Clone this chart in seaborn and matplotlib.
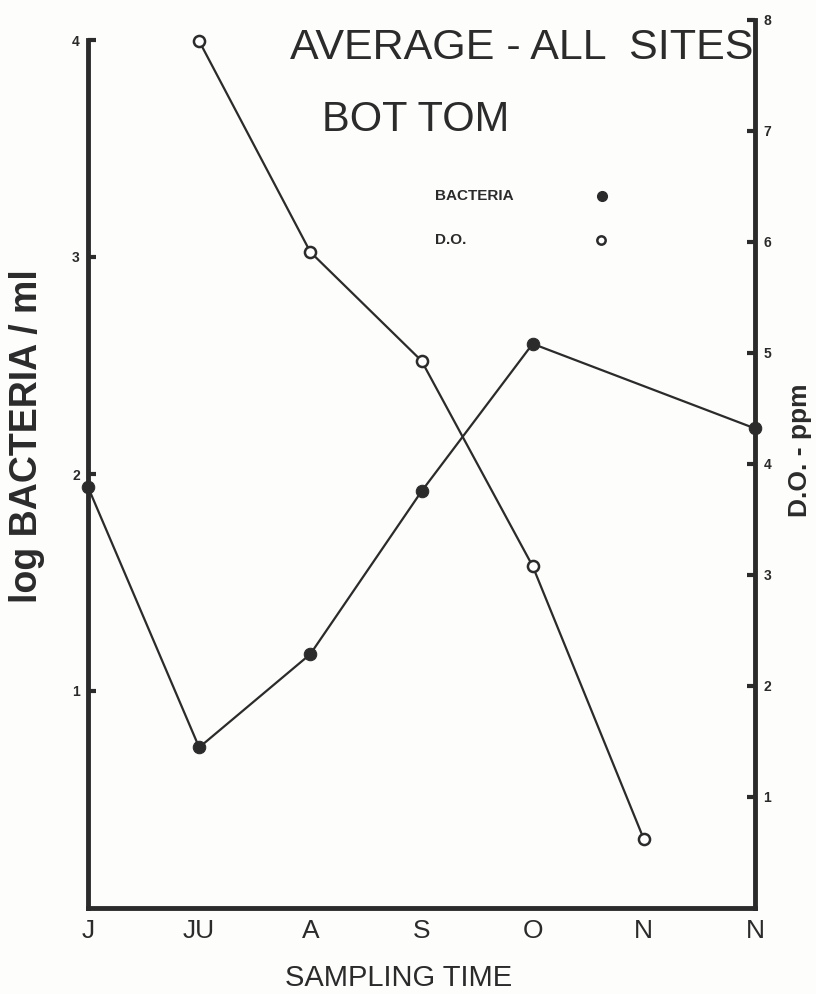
import numpy as np
import pandas as pd
import matplotlib
matplotlib.use("Agg")
import matplotlib.pyplot as plt
import seaborn as sns

# Sampling times (June through November, two November samples)
month_labels = ["J", "JU", "A", "S", "O", "N", "N"]
sample_index = [0, 1, 2, 3, 4, 5, 6]

# log bacteria / ml (filled circles); no count at the first November sample
bacteria_log = [1.94, 0.74, 1.17, 1.92, 2.60, np.nan, 2.21]
# Dissolved oxygen, ppm (open circles)
do_ppm = [np.nan, 7.81, 5.91, 4.93, 3.08, 0.62, np.nan]

left_ticks = [1, 2, 3, 4]
right_ticks = [1, 2, 3, 4, 5, 6, 7, 8]

ink = "#2b2b2b"

sns.set_theme(style="white")
plt.rcParams["font.family"] = ["Liberation Sans", "DejaVu Sans"]

df = pd.DataFrame({"sample": sample_index, "bacteria": bacteria_log, "do": do_ppm})
bact_df = df.dropna(subset=["bacteria"])
do_df = df.dropna(subset=["do"])

W, H = 816, 994
fig = plt.figure(figsize=(W / 100, H / 100), dpi=100)
fig.patch.set_facecolor("#fdfdfc")


def fx(px):
    return px / W


def fy(py):
    return 1 - py / H


ax = fig.add_axes([fx(88), fy(908), (755 - 88) / W, (908 - 20) / H])
ax.set_facecolor("none")
ax2 = ax.twinx()
ax2.set_facecolor("none")

# Bacteria: filled markers on the left axis
sns.lineplot(data=bact_df, x="sample", y="bacteria", ax=ax, color=ink, lw=1.6,
             marker="o", markersize=9, markerfacecolor=ink, markeredgecolor=ink,
             clip_on=False, zorder=5)
# Dissolved oxygen: open markers on the right axis
sns.lineplot(data=do_df, x="sample", y="do", ax=ax2, color=ink, lw=1.6,
             marker="o", markersize=8, markerfacecolor="white", markeredgecolor=ink,
             markeredgewidth=1.8, clip_on=False, zorder=5)

ax.set_xlim(0, 6)
ax.set_ylim(0, 4 * 888 / 868)
ax2.set_ylim(0, 8)

ax.set_xticks(sample_index)
ax.set_xticklabels(month_labels, fontsize=19)
ax.set_yticks(left_ticks)
ax.set_yticklabels([str(t) for t in left_ticks], fontsize=10, fontweight="bold", color=ink)
ax2.set_yticks(right_ticks)
ax2.set_yticklabels([str(t) for t in right_ticks], fontsize=10, fontweight="bold", color=ink)

ax.tick_params(axis="x", direction="in", length=7, width=2.5, color=ink, pad=8, labelcolor=ink)
ax.tick_params(axis="y", direction="in", length=6, width=3, color=ink, pad=6)
ax2.tick_params(axis="y", direction="in", length=6, width=3, color=ink, pad=6)

for a in (ax, ax2):
    a.spines["top"].set_visible(False)
    for side in ("left", "right", "bottom"):
        a.spines[side].set_color(ink)
        a.spines[side].set_linewidth(3.5)
ax.spines["left"].set_bounds(0, 4)
ax.spines["right"].set_visible(False)
ax2.spines["left"].set_visible(False)
ax2.spines["bottom"].set_visible(False)

ax.set_xlabel("")
ax.set_ylabel("")
ax2.set_ylabel("")

# Axis titles
fig.text(fx(399), fy(978), "SAMPLING TIME", fontsize=21, color=ink,
         ha="center", va="center")
fig.text(fx(27), fy(436), "log BACTERIA / ml", fontsize=27, fontweight="bold",
         color=ink, rotation=90, ha="center", va="center")
fig.text(fx(800), fy(450), "D.O. - ppm", fontsize=19, fontweight="bold",
         color=ink, rotation=90, ha="center", va="center")

# Title lettering
fig.text(fx(290), fy(48), "AVERAGE - ALL  SITES", fontsize=31, color=ink,
         ha="left", va="center")
fig.text(fx(322), fy(120), "BOT TOM", fontsize=30, color=ink,
         ha="left", va="center")

# Hand-lettered key
fig.text(fx(435), fy(196), "BACTERIA", fontsize=11, fontweight="bold",
         color=ink, ha="left", va="center")
fig.text(fx(435), fy(240), "D.O.", fontsize=11, fontweight="bold",
         color=ink, ha="left", va="center")
fig.lines.append(plt.Line2D([fx(602)], [fy(196)], transform=fig.transFigure,
                            marker="o", markersize=7, color=ink, markerfacecolor=ink,
                            linestyle="none"))
fig.lines.append(plt.Line2D([fx(601)], [fy(240)], transform=fig.transFigure,
                            marker="o", markersize=6, color=ink, markerfacecolor="white",
                            markeredgewidth=1.8, linestyle="none"))

fig.savefig("out.png", dpi=100, facecolor=fig.get_facecolor())
